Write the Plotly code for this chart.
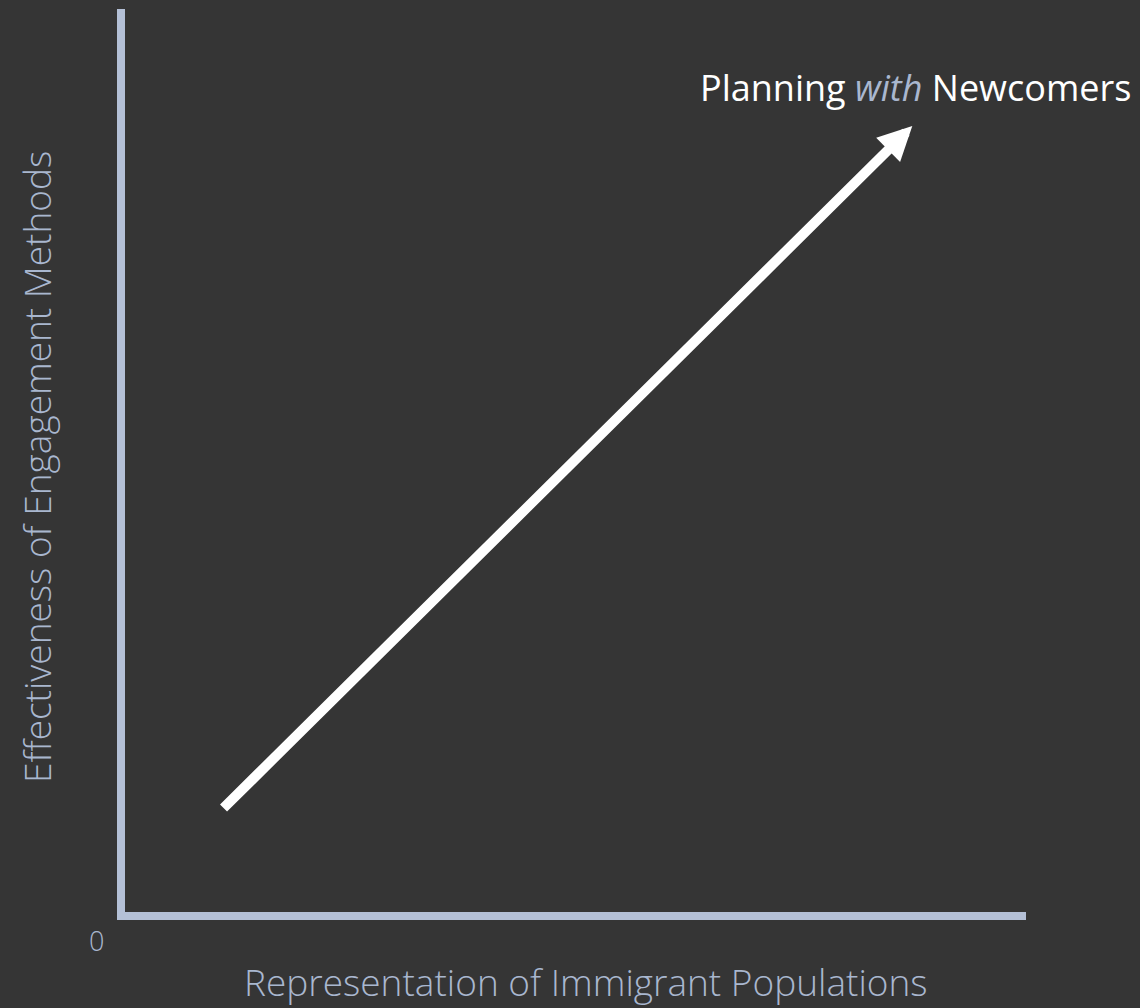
import plotly.graph_objects as go

# Data
arrow_x = [1.077, 8.738]
arrow_y = [1.135, 8.704]
x_title = "Representation of Immigrant Populations"
y_title = "Effectiveness of Engagement Methods"
label_text = "Planning <span style='color:#a9b7cf'><i>with</i></span> Newcomers"
origin_label = "0"

BG = "#353535"
AXIS = "#b4c0d6"
TXT = "#a9b7cf"
FONT = "Open Sans"

fig = go.Figure()
fig.add_trace(go.Scatter(x=[None], y=[None], mode="lines", showlegend=False, hoverinfo="skip"))

# arrow
fig.add_annotation(x=arrow_x[1], y=arrow_y[1], ax=arrow_x[0], ay=arrow_y[0],
                   xref="x", yref="y", axref="x", ayref="y", text="",
                   showarrow=True, arrowhead=2, arrowsize=0.68, arrowwidth=10,
                   arrowcolor="white", standoff=0)

fig.add_annotation(x=1.1188, y=0.9135, xref="paper", yref="paper", text=label_text,
                   showarrow=False, xanchor="right", yanchor="middle",
                   font=dict(family=FONT, size=36, color="white"))

fig.add_annotation(x=-0.021, y=-0.032, xref="paper", yref="paper", text=origin_label,
                   showarrow=False, xanchor="right", yanchor="middle",
                   font=dict(family=FONT, size=27, color=TXT, weight=300))

# axis titles
fig.add_annotation(x=0.5117, y=-0.0771, xref="paper", yref="paper", text=x_title,
                   showarrow=False, xanchor="center", yanchor="middle",
                   font=dict(family=FONT, size=37, color=TXT, weight=300))
fig.add_annotation(x=-0.0988, y=0.4928, xref="paper", yref="paper", text=y_title,
                   showarrow=False, xanchor="center", yanchor="middle", textangle=-90,
                   font=dict(family=FONT, size=37, color=TXT, weight=300))

fig.update_layout(
    width=1140, height=1008,
    paper_bgcolor=BG, plot_bgcolor=BG,
    margin=dict(l=125, r=114, t=9, b=96),
    font=dict(family=FONT, color=TXT),
    xaxis=dict(range=[0, 10], showgrid=False, zeroline=False, showticklabels=False,
               showline=True, linewidth=8, linecolor=AXIS, ticks="", fixedrange=True),
    yaxis=dict(range=[0, 10], showgrid=False, zeroline=False, showticklabels=False,
               showline=True, linewidth=8, linecolor=AXIS, ticks="", fixedrange=True),
)

fig.write_html("out.html", config={"displayModeBar": False},
               post_script="document.body.style.margin='0';document.body.style.background='#353535';")
